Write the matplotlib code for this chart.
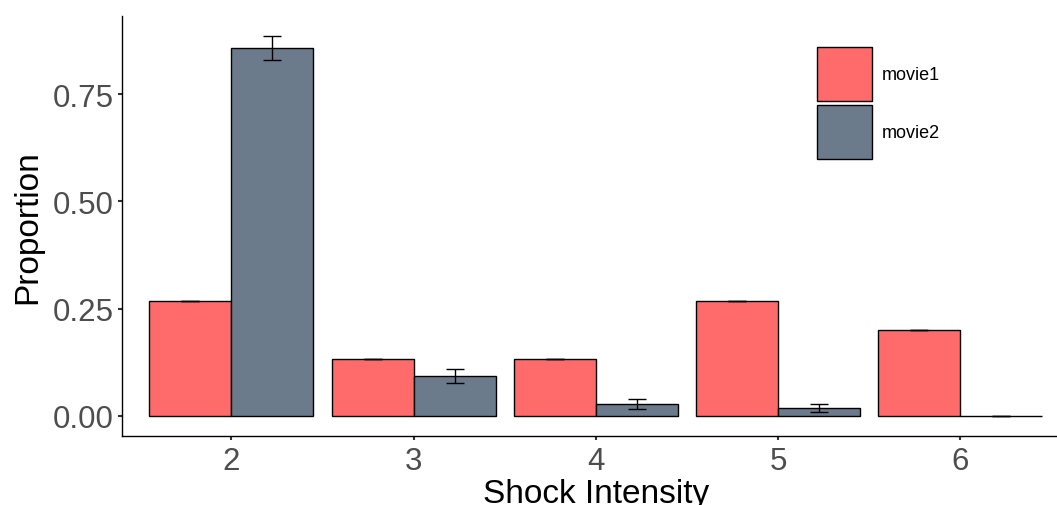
import matplotlib
matplotlib.use("Agg")
import matplotlib.pyplot as plt
import numpy as np

plt.rcParams['font.family'] = ['Liberation Sans', 'DejaVu Sans']

categories = [2, 3, 4, 5, 6]
series_names = ["movie1", "movie2"]
movie1_vals = [0.267, 0.133, 0.133, 0.267, 0.200]
movie1_err = [0.0, 0.0, 0.0, 0.0, 0.0]
movie2_vals = [0.858, 0.093, 0.028, 0.019, 0.0]
movie2_err = [0.028, 0.016, 0.012, 0.010, 0.0]
colors = ["#FF6A6A", "#6C7B8B"]
yticks = [0.0, 0.25, 0.50, 0.75]
yticklabels = ["0.00", "0.25", "0.50", "0.75"]

W, H = 1057, 506
fig = plt.figure(figsize=(W / 100, H / 100), dpi=100)
ax_left, ax_right, ax_top, ax_bottom = 122, 1069.5, 17, 437
ax = fig.add_axes([ax_left / W, 1 - ax_bottom / H, (ax_right - ax_left) / W, (ax_bottom - ax_top) / H])

x = np.array(categories, dtype=float)
bw = 0.45
for i, (vals, errs) in enumerate([(movie1_vals, movie1_err), (movie2_vals, movie2_err)]):
    pos = x + (i - 0.5) * bw
    ax.bar(pos, vals, width=bw, color=colors[i], edgecolor="black", linewidth=1.0,
           label=series_names[i], zorder=2)
    ax.errorbar(pos, vals, yerr=errs, fmt="none", ecolor="black", elinewidth=1.0,
                capsize=6.5, capthick=1.0, zorder=3)

ax.set_xlim(1.4, 6.6)
ax.set_ylim(-0.0466, 0.932)
ax.set_xticks(categories)
ax.set_xticklabels([str(c) for c in categories])
ax.set_yticks(yticks)
ax.set_yticklabels(yticklabels)

for s in ["top", "right"]:
    ax.spines[s].set_visible(False)
for s in ["left", "bottom"]:
    ax.spines[s].set_color("black")
    ax.spines[s].set_linewidth(1.0)

ax.tick_params(axis="both", length=3, width=1.5, color="#333333",
               labelsize=22.5, labelcolor="#4D4D4D", pad=3)
ax.tick_params(axis="x", pad=4)

ax.set_xlabel("Shock Intensity", fontsize=24, color="black", labelpad=1.5)
ax.set_ylabel("Proportion", fontsize=24, color="black", labelpad=7)

fs = 13
fig.legend(loc="upper left", bbox_to_anchor=(817 / W, 1 - 48 / H), frameon=False,
           fontsize=fs, handlelength=3.05, handleheight=4.25, handletextpad=0.55,
           labelspacing=0.2, borderpad=0, borderaxespad=0)

fig.savefig("out.png", dpi=100)
